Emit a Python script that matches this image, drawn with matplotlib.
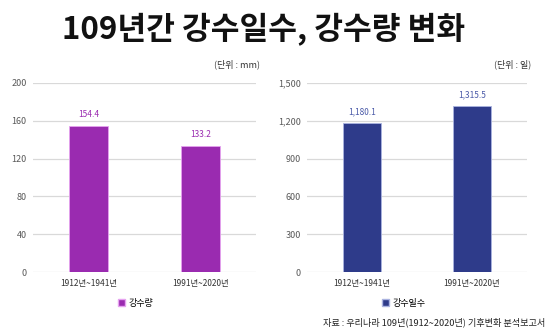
import matplotlib
matplotlib.use('Agg')
import matplotlib.pyplot as plt
from matplotlib.patches import Patch

plt.rcParams['font.family'] = ['Noto Sans CJK KR', 'DejaVu Sans']

# data
periods = ['1912년~1941년', '1991년~2020년']
rain_amount = [154.4, 133.2]     # 강수량 (mm)
rain_days = [1180.1, 1315.5]     # 강수일수 (일)
amount_ticks = [0, 40, 80, 120, 160, 200]
days_ticks = [0, 300, 600, 900, 1200, 1500]

purple = '#9a2bb0'
navy = '#2e3b8a'
grid_c = '#d9d9d9'
tick_c = '#595959'

fig = plt.figure(figsize=(5.6, 3.34), dpi=100)
fig.patch.set_facecolor('white')

fig.text(0.47, 0.91, '109년간 강수일수, 강수량 변화', ha='center', va='center',
         fontsize=22.5, fontweight='bold', color='#111111')


def draw(ax, vals, ticks, color, edge, fmt, unit, legend_label, legend_x):
    x = range(len(vals))
    ax.bar(x, vals, width=0.35, color=color, edgecolor=edge, linewidth=0.6, zorder=3)
    ax.set_xlim(-0.5, 1.5)
    ax.set_ylim(0, ticks[-1])
    ax.set_yticks(ticks)
    ax.set_yticklabels([f'{t:,}' for t in ticks])
    ax.set_xticks(list(x))
    ax.set_xticklabels(periods)
    ax.grid(axis='y', color=grid_c, linewidth=0.9, zorder=0)
    for s in ax.spines.values():
        s.set_visible(False)
    ax.tick_params(axis='y', length=0, pad=4.5, labelsize=6.5, labelcolor=tick_c)
    ax.tick_params(axis='x', length=0, pad=5, labelsize=6, labelcolor='#333333')
    for xi, v in zip(x, vals):
        ax.text(xi, v + ticks[-1] * 0.035, fmt(v), ha='center', va='bottom',
                fontsize=6, color=color if color == purple else '#4a5aa8')
    ax.text(1.02, 1.07, unit, transform=ax.transAxes, ha='right', va='bottom',
            fontsize=6.5, color='#333333')
    ax.legend(handles=[Patch(facecolor=color, edgecolor=edge, label=legend_label)],
              loc='center', bbox_to_anchor=(legend_x, -0.165), frameon=False,
              fontsize=6.5, handlelength=0.8, handleheight=0.8, handletextpad=0.4)


ax1 = fig.add_axes([0.059, 0.1856, 0.398, 0.566])
draw(ax1, rain_amount, amount_ticks, purple, '#e6a3f0', lambda v: f'{v:.1f}',
     '(단위 : mm)', '강수량', 0.46)

ax2 = fig.add_axes([0.548, 0.1856, 0.393, 0.566])
draw(ax2, rain_days, days_ticks, navy, '#aab3e0', lambda v: f'{v:,.1f}',
     '(단위 : 일)', '강수일수', 0.44)

fig.text(0.973, 0.035, '자료 : 우리나라 109년(1912~2020년) 기후변화 분석보고서',
         ha='right', va='center', fontsize=6.6, color='#222222')

fig.savefig('out.png', dpi=100, facecolor='white')
